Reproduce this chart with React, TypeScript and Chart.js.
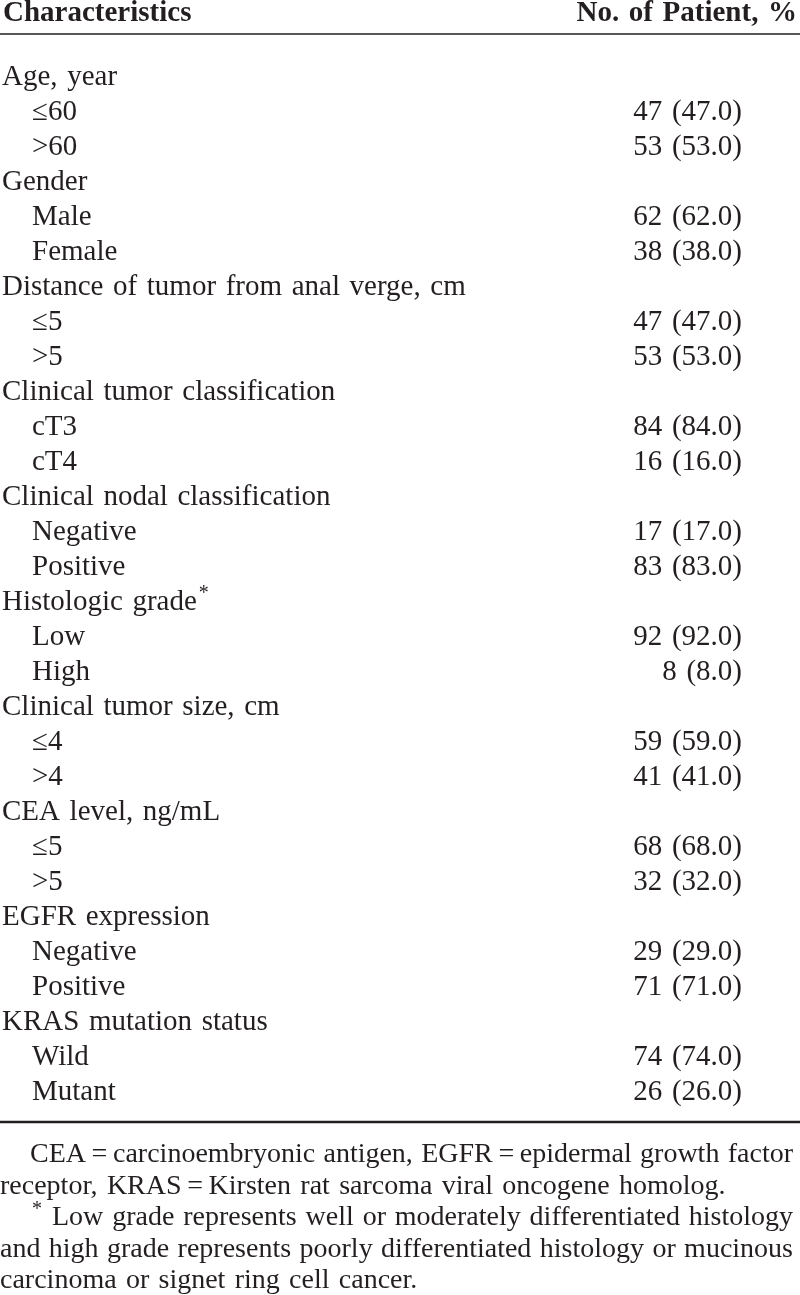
import React, { useEffect, useRef } from "react";
import { Chart, registerables } from "chart.js";

Chart.register(...registerables);

const headerLabels = ["Characteristics", "No. of Patient, %"];

const rowLabels = [
  "Age, year", "≤60", ">60",
  "Gender", "Male", "Female",
  "Distance of tumor from anal verge, cm", "≤5", ">5",
  "Clinical tumor classification", "cT3", "cT4",
  "Clinical nodal classification", "Negative", "Positive",
  "Histologic grade*", "Low", "High",
  "Clinical tumor size, cm", "≤4", ">4",
  "CEA level, ng/mL", "≤5", ">5",
  "EGFR expression", "Negative", "Positive",
  "KRAS mutation status", "Wild", "Mutant",
];

const patientCounts = [
  null, 47, 53,
  null, 62, 38,
  null, 47, 53,
  null, 84, 16,
  null, 17, 83,
  null, 92, 8,
  null, 59, 41,
  null, 68, 32,
  null, 29, 71,
  null, 74, 26,
];

const patientPercents = [
  null, 47.0, 53.0,
  null, 62.0, 38.0,
  null, 47.0, 53.0,
  null, 84.0, 16.0,
  null, 17.0, 83.0,
  null, 92.0, 8.0,
  null, 59.0, 41.0,
  null, 68.0, 32.0,
  null, 29.0, 71.0,
  null, 74.0, 26.0,
];

const footnoteParagraphs = [
  [
    "CEA\u2009=\u2009carcinoembryonic antigen, EGFR\u2009=\u2009epidermal growth factor",
    "receptor, KRAS\u2009=\u2009Kirsten rat sarcoma viral oncogene homolog.",
  ],
  [
    "*Low grade represents well or moderately differentiated histology",
    "and high grade represents poorly differentiated histology or mucinous",
    "carcinoma or signet ring cell cancer.",
  ],
];

const FONT = "'Liberation Serif', 'Times New Roman', serif";
const INK = "#231f20";

function drawWords(ctx: CanvasRenderingContext2D, text: string, x: number, y: number, space: number, align: "left" | "right", justifyTo?: number) {
  const words = text.split(" ");
  const widths = words.map((w) => ctx.measureText(w).width);
  const sum = widths.reduce((a, b) => a + b, 0);
  let sp = space;
  if (justifyTo !== undefined && words.length > 1) {
    sp = (justifyTo - x - sum) / (words.length - 1);
  }
  const total = sum + sp * (words.length - 1);
  let cx = align === "right" ? x - total : x;
  ctx.textAlign = "left";
  words.forEach((w, i) => {
    ctx.fillText(w, cx, y);
    cx += widths[i] + sp;
  });
  return cx;
}

const tablePlugin = {
  id: "tablePlugin",
  afterDraw(chart: any) {
    const ctx: CanvasRenderingContext2D = chart.ctx;
    const yScale = chart.scales.y;
    const W = chart.width;
    ctx.save();
    ctx.fillStyle = INK;
    ctx.strokeStyle = INK;
    ctx.textBaseline = "alphabetic";

    // header
    ctx.font = `bold 29px ${FONT}`;
    drawWords(ctx, headerLabels[0], 3, 21, 9.6, "left");
    drawWords(ctx, headerLabels[1], 797, 21, 9.6, "right");

    ctx.lineWidth = 1.6;
    ctx.beginPath();
    ctx.moveTo(0, 34);
    ctx.lineTo(W, 34);
    ctx.stroke();

    // rows
    ctx.font = `29px ${FONT}`;
    rowLabels.forEach((label, i) => {
      const yc = yScale.getPixelForValue(i);
      const base = yc + 10;
      const isGroup = patientCounts[i] === null;
      const x0 = isGroup ? 2 : 32;
      let text = label;
      const star = text.endsWith("*");
      if (star) text = text.slice(0, -1);
      ctx.font = `29px ${FONT}`;
      const end = drawWords(ctx, text, x0, base, 9.6, "left");
      if (star) {
        ctx.font = `20px ${FONT}`;
        ctx.fillText("*", end - 9.6 + 2, base - 11);
        ctx.font = `29px ${FONT}`;
      }
      if (!isGroup) {
        const v = `${patientCounts[i]} (${(patientPercents[i] as number).toFixed(1)})`;
        drawWords(ctx, v, 742, base, 9.6, "right");
      }
    });

    // bottom rule
    const lastY = yScale.getPixelForValue(rowLabels.length - 1);
    const ruleY = lastY + 32;
    ctx.lineWidth = 2.4;
    ctx.beginPath();
    ctx.moveTo(0, ruleY);
    ctx.lineTo(W, ruleY);
    ctx.stroke();

    // footnotes
    ctx.font = `28px ${FONT}`;
    let fy = ruleY + 40;
    footnoteParagraphs.forEach((para) => {
      para.forEach((line, li) => {
        const last = li === para.length - 1;
        let x = li === 0 ? 30 : 0;
        let t = line;
        if (t.startsWith("*")) {
          ctx.font = `20px ${FONT}`;
          ctx.fillText("*", x + 2, fy - 10);
          ctx.font = `28px ${FONT}`;
          x = 52;
          t = t.slice(1);
        }
        drawWords(ctx, t, x, fy, 9.3, "left", last ? undefined : 793);
        fy += 31.6;
      });
    });

    ctx.restore();
  },
};

export default function App() {
  const ref = useRef<HTMLCanvasElement | null>(null);
  useEffect(() => {
    if (!ref.current) return;
    const chart = new Chart(ref.current, {
      type: "bar",
      data: {
        labels: rowLabels,
        datasets: [
          {
            data: patientCounts as any,
            backgroundColor: "rgba(0,0,0,0)",
            borderWidth: 0,
          },
        ],
      },
      options: {
        indexAxis: "y",
        responsive: false,
        animation: false,
        events: [],
        layout: { padding: { top: 57.5, bottom: 187.5, left: 0, right: 0 } },
        plugins: { legend: { display: false }, tooltip: { enabled: false } },
        scales: {
          x: { display: false, min: 0, max: 100 },
          y: { display: false },
        },
      },
      plugins: [tablePlugin],
    });
    return () => chart.destroy();
  }, []);
  return (
    <div style={{ position: "absolute", left: 0, top: 0, width: 800, height: 1295, background: "#fff" }}>
      <canvas ref={ref} width={800} height={1295} style={{ display: "block", width: 800, height: 1295 }} />
    </div>
  );
}
